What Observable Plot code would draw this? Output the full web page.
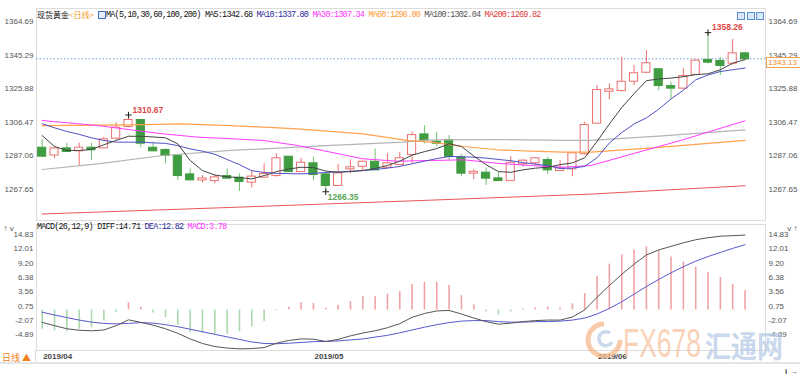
<!DOCTYPE html>
<html><head><meta charset="utf-8">
<script src="https://cdn.jsdelivr.net/npm/d3@7"></script>
<script src="https://cdn.jsdelivr.net/npm/@observablehq/plot@0.6"></script>
<style>
body{margin:0;background:#fff;}
#wrap{position:relative;width:800px;height:376px;overflow:hidden;background:#fff;font-family:"Liberation Sans",Arial,sans-serif;}
#main,#macd{position:absolute;left:0;}
#main{top:0;} #macd{top:222px;}
.ov{position:absolute;white-space:pre;line-height:10px;}
.mono{font-family:"Liberation Mono",monospace;font-size:8.5px;letter-spacing:-0.8px;}
.cjk{font-family:"Noto Sans CJK SC",sans-serif;font-size:8px;}
</style></head><body>
<div id="wrap"><div id="main"></div><div id="macd"></div></div>
<script>
// ---------- data ----------
const opens  = [1291.5,1287.6,1291.1,1290.0,1291.5,1291.7,1297.3,1304.0,1307.5,1291.5,1290.2,1286.9,1276.1,1273.2,1272.8,1275.1,1274.2,1271.9,1274.8,1275.7,1286.3,1278.0,1282.5,1276.1,1270.0,1279.6,1281.1,1283.4,1280.5,1282.1,1287.9,1299.2,1295.0,1296.0,1285.9,1277.1,1277.1,1273.8,1272.8,1282.5,1283.1,1284.4,1278.6,1279.6,1288.3,1306.0,1324.4,1324.8,1330.2,1335.4,1336.8,1327.1,1326.2,1334.1,1342.2,1341.6,1340.6,1346.0];
const highs  = [1296.5,1292.1,1294.4,1294.4,1294.4,1297.9,1306.2,1310.67,1308.1,1295.0,1291.1,1287.5,1279.6,1275.7,1276.1,1279.6,1276.7,1278.0,1282.5,1288.3,1286.7,1285.7,1286.3,1277.1,1282.1,1284.8,1284.0,1291.1,1288.3,1289.2,1300.7,1304.6,1300.7,1298.8,1288.0,1279.0,1280.0,1277.6,1286.7,1285.0,1286.0,1286.3,1284.4,1289.2,1306.5,1327.7,1328.7,1344.1,1339.3,1347.9,1337.4,1329.6,1337.4,1342.5,1358.26,1344.0,1354.3,1347.0];
const lows   = [1286.1,1285.4,1289.2,1281.5,1284.4,1291.3,1296.3,1303.3,1291.7,1289.4,1282.5,1272.8,1272.8,1271.3,1270.9,1273.6,1266.5,1268.6,1274.2,1274.8,1277.5,1277.5,1272.8,1266.35,1269.4,1276.7,1278.6,1278.6,1279.6,1281.5,1282.5,1294.0,1292.3,1284.4,1275.1,1273.4,1270.0,1272.5,1272.5,1280.5,1281.5,1276.3,1278.3,1275.1,1287.5,1305.6,1319.5,1324.0,1327.7,1334.5,1324.8,1319.5,1325.5,1333.5,1340.3,1333.5,1339.5,1342.5];
const closes = [1286.9,1291.1,1289.6,1291.5,1290.6,1296.3,1303.1,1307.5,1294.4,1290.0,1287.3,1275.7,1273.2,1273.8,1274.4,1274.2,1272.3,1274.8,1276.3,1285.4,1278.0,1282.8,1276.3,1270.0,1276.7,1280.2,1283.4,1279.0,1282.5,1285.4,1298.8,1296.3,1294.4,1286.7,1277.1,1277.6,1274.2,1272.8,1282.8,1284.0,1285.4,1279.0,1279.6,1288.3,1304.6,1324.8,1325.2,1329.6,1334.5,1340.3,1327.7,1326.2,1332.9,1341.8,1341.2,1339.3,1346.0,1343.13];
const ma5  = [1298.8,1292.5,1290.2,1290.2,1290.8,1293.5,1296.0,1298.4,1298.4,1298.0,1297.5,1294.0,1284.4,1278.6,1276.0,1275.0,1274.5,1273.8,1275.7,1278.0,1279.5,1280.5,1280.3,1278.3,1277.6,1278.0,1278.6,1279.8,1281.5,1284.0,1287.5,1289.5,1291.3,1294.0,1292.5,1287.0,1282.0,1278.0,1277.6,1279.0,1280.0,1280.5,1282.0,1283.0,1286.0,1295.5,1305.5,1315.0,1323.0,1330.5,1331.5,1332.0,1332.8,1334.0,1334.5,1336.8,1340.6,1342.68];
const ma10 = [1305.6,1303.3,1301.2,1299.5,1297.5,1296.0,1295.0,1295.0,1295.0,1294.6,1294.3,1293.0,1291.1,1289.8,1288.0,1285.0,1282.0,1278.5,1277.5,1277.0,1276.8,1276.7,1277.0,1277.5,1277.8,1278.2,1278.6,1279.2,1280.0,1281.0,1282.5,1284.0,1285.5,1286.7,1286.6,1286.3,1285.8,1285.0,1284.3,1283.2,1282.3,1281.5,1279.8,1280.0,1281.0,1286.0,1294.5,1300.5,1305.5,1309.0,1314.0,1320.0,1325.0,1331.0,1333.8,1335.8,1336.8,1337.8];
const ma30  = [[0,1307.5],[4.5,1304.6],[7.2,1302.1],[9.8,1299.8],[12.6,1297.9],[15.3,1297.0],[17.9,1296.0],[20.7,1293.1],[23.4,1289.2],[26,1285.4],[28.8,1284.0],[31.5,1284.4],[34.2,1284.8],[36.9,1282.8],[39.6,1281.5],[42.3,1280.5],[44.5,1281.5],[48,1288.5],[51.8,1296.0],[54.4,1301.7],[57,1307.34]];
const ma60  = [[0,1304.6],[7.2,1305.0],[11.2,1305.6],[15.3,1304.6],[20.7,1302.7],[26,1299.8],[29.6,1296.0],[31.5,1295.0],[34.2,1292.5],[36.9,1290.6],[39.6,1289.8],[42.3,1289.2],[44.5,1289.2],[50,1292.0],[57,1296.0]];
const ma100 = [[0,1279.2],[4.5,1282.5],[9.8,1287.3],[15.3,1290.2],[23.4,1293.1],[29.3,1295.0],[31.5,1296.3],[36.9,1296.5],[42.3,1296.0],[44.5,1296.0],[50,1298.5],[57,1302.04]];
const ma200 = [[0,1253.5],[15.3,1257.3],[31.5,1261.5],[44.5,1265.0],[57,1269.82]];
const histV = [-3.8,-4.1,-4.3,-3.8,-3.5,-2.2,-0.5,1.4,0.5,-0.6,-1.5,-3.0,-4.5,-4.6,-4.8,-4.8,-4.3,-3.3,-2.3,-0.2,0.5,1.4,1.25,0.3,0.9,1.6,2.6,2.6,3.1,3.6,5.0,5.4,5.4,4.8,2.8,1.0,-0.4,-1.0,-0.4,0.2,0.4,0.6,0.4,1.2,3.2,6.6,9.0,10.8,11.8,12.4,11.6,10.4,9.4,8.4,7.4,6.4,5.0,3.78];
const diffV = [-2.45,-3.1,-3.7,-4.0,-4.1,-3.95,-3.1,-1.95,-2.45,-3.0,-3.7,-4.6,-5.7,-6.6,-7.2,-7.5,-7.65,-7.6,-7.4,-6.55,-6.0,-5.7,-5.75,-6.2,-5.8,-5.1,-4.55,-4.1,-3.5,-2.7,-1.45,-0.7,-0.2,-0.1,-0.8,-1.6,-2.3,-2.8,-2.6,-2.3,-2.1,-2.0,-2.0,-1.4,0.0,2.5,4.8,7.0,9.0,10.8,11.8,12.5,13.2,13.8,14.2,14.5,14.6,14.71];
const deaV  = [-0.45,-1.0,-1.5,-2.0,-2.4,-2.65,-2.75,-2.65,-2.5,-2.6,-2.9,-3.3,-3.8,-4.3,-4.8,-5.3,-5.8,-6.3,-6.6,-6.65,-6.55,-6.4,-6.25,-6.2,-6.1,-5.9,-5.7,-5.35,-5.0,-4.5,-3.95,-3.4,-2.9,-2.5,-2.2,-2.1,-2.1,-2.3,-2.4,-2.4,-2.3,-2.3,-2.2,-2.0,-1.6,-0.8,0.3,1.6,3.1,4.6,6.0,7.3,8.5,9.6,10.5,11.3,12.1,12.82];
const yTicksMain = [1364.69,1345.29,1325.88,1306.47,1287.06,1267.65];
const yTicksMacd = [14.83,12.01,9.20,6.38,3.56,0.75,-2.07,-4.89];
const dateTicks = [0,22,45];
const dateLabels = ["2019/04","2019/05","2019/06"];
const highMarks = [{i:7,v:1310.67},{i:54,v:1358.26}];
const lowMarks = [{i:23,v:1266.35}];
const lastPrice = 1343.13;
const legendMA = {ma5:"1342.68",ma10:"1337.80",ma30:"1307.34",ma60:"1296.00",ma100:"1302.04",ma200:"1269.82"};
const legendMACD = {diff:"14.71",dea:"12.82",macd:"3.78"};

// ---------- build ----------
const RED="#ec6f6f", GREEN="#409c40", GWICK="#72bf72";
const C={ma5:"#444",ma10:"#5151c8",ma30:"#ff3cff",ma60:"#ffa24a",ma100:"#b4b4b4",ma200:"#e85454"};
const candles = opens.map((o,i)=>({i,o,h:highs[i],l:lows[i],c:closes[i],up:closes[i]>=o}));
const seq = a => a.map((v,i)=>({i,v}));
const pairs = a => a.map(([i,v])=>({i,v}));
const xdom = [-0.46, 58.66];
const fmt = d => d.toFixed(2);
const axStyle = {tickSize:0, tickPadding:3, tickFormat:fmt, fontSize:8, color:"#555"};

const main = Plot.plot({
  width:800, height:222, marginLeft:36, marginRight:35, marginTop:8, marginBottom:2,
  style:{fontFamily:"Liberation Sans, Arial, sans-serif", fontSize:"8px", background:"transparent"},
  x:{domain:xdom, axis:null},
  y:{domain:[1249.75,1372.2], axis:null},
  marks:[
    Plot.frame({stroke:"#dcdcdc"}),
    Plot.ruleY([lastPrice],{stroke:"#6f9fd8", strokeDasharray:"1.5,2"}),
    Plot.ruleX(candles,{x:"i", y1:"l", y2:"h", stroke:d=>d.up?RED:GWICK, strokeWidth:1}),
    Plot.rect(candles,{x1:d=>d.i-0.33, x2:d=>d.i+0.33, y1:"o", y2:"c", insetTop:-0.5, insetBottom:-0.5,
      fill:d=>d.up?"#fff":GREEN, stroke:d=>d.up?RED:GREEN, strokeWidth:1}),
    Plot.line(pairs(ma200),{x:"i",y:"v",stroke:C.ma200,strokeWidth:1}),
    Plot.line(pairs(ma100),{x:"i",y:"v",stroke:C.ma100,strokeWidth:1.2}),
    Plot.line(pairs(ma60),{x:"i",y:"v",stroke:C.ma60,strokeWidth:1.2}),
    Plot.line(pairs(ma30),{x:"i",y:"v",stroke:C.ma30,strokeWidth:1}),
    Plot.line(seq(ma10),{x:"i",y:"v",stroke:C.ma10,strokeWidth:1}),
    Plot.line(seq(ma5),{x:"i",y:"v",stroke:C.ma5,strokeWidth:1}),
    Plot.dot(highMarks.concat(lowMarks),{x:"i",y:"v",symbol:"plus",r:2.2,stroke:"#222",strokeWidth:1}),
    Plot.text(highMarks,{x:"i",y:"v",text:d=>fmt(d.v),dx:4,dy:-5,textAnchor:"start",fill:"#e04848",fontSize:8.5,fontWeight:"bold"}),
    Plot.text(lowMarks,{x:"i",y:"v",text:d=>fmt(d.v),dx:2,dy:6,textAnchor:"start",fill:"#5aa85a",fontSize:8.5,fontWeight:"bold"}),
    Plot.axisY({anchor:"left", ticks:yTicksMain, ...axStyle}),
    Plot.axisY({anchor:"right", ticks:yTicksMain, ...axStyle})
  ]
});
document.getElementById("main").appendChild(main);

const macd = Plot.plot({
  width:800, height:154, marginLeft:36, marginRight:35, marginTop:2, marginBottom:26,
  style:{fontFamily:"Liberation Sans, Arial, sans-serif", fontSize:"8px", background:"transparent"},
  x:{domain:xdom, axis:null},
  y:{domain:[-7.98,16.8], axis:null},
  marks:[
    Plot.frame({stroke:"#dcdcdc"}),
    Plot.ruleX(seq(histV),{x:"i", y1:0, y2:"v", stroke:d=>d.v>=0?"#f0a2a2":"#acd8ac", strokeWidth:1.6}),
    Plot.line(seq(deaV),{x:"i",y:"v",stroke:"#5858d0",strokeWidth:1}),
    Plot.line(seq(diffV),{x:"i",y:"v",stroke:"#555",strokeWidth:1}),
    Plot.axisY({anchor:"left", ticks:yTicksMacd, ...axStyle}),
    Plot.axisY({anchor:"right", ticks:yTicksMacd, ...axStyle}),
    Plot.axisX({anchor:"bottom", ticks:dateTicks, tickFormat:(d,k)=>dateLabels[k], tickSize:0, tickPadding:3,
      textAnchor:"start", dx:1, fontSize:8, fontWeight:"bold", color:"#444"})
  ]
});
document.getElementById("macd").appendChild(macd);

// ---------- overlays (legend / labels) ----------
const wrap = document.getElementById("wrap");
function ov(html, left, top, cls, extra){
  const d=document.createElement("div"); d.className="ov "+(cls||""); d.style.left=left+"px"; d.style.top=top+"px";
  if(extra) Object.assign(d.style, extra); d.innerHTML=html; wrap.appendChild(d); return d;
}
ov('<span style="color:#111">现货黄金</span><span style="color:#f39a1e">&lt;日线&gt;</span>',37,10,"cjk");
ov('',98,11,"",{width:"6px",height:"6px",border:"1px solid #3a6fc8",background:"#e8eefc"});
ov(`<span style="color:#111">MA(5,10,30,60,100,200) MA5:${legendMA.ma5}</span> <span style="color:#2a2aa0">MA10:${legendMA.ma10}</span> <span style="color:#ff33ff">MA30:${legendMA.ma30}</span> <span style="color:#ff9933">MA60:${legendMA.ma60}</span> <span style="color:#555">MA100:${legendMA.ma100}</span> <span style="color:#e03a3a">MA200:${legendMA.ma200}</span>`,106,10,"mono");
ov(`<span style="color:#111">MACD(26,12,9) DIFF:${legendMACD.diff}</span> <span style="color:#2a2aa0">DEA:${legendMACD.dea}</span> <span style="color:#ff33ff">MACD:${legendMACD.macd}</span>`,37,222,"mono");
[737,746.5,756].forEach(x=>ov('',x,12,"",{width:"6px",height:"6px",border:"1px solid #5b8fd4",background:"#dbe8fa"}));
const py = main.scale("y").apply(lastPrice);
ov(String(lastPrice.toFixed(2)),766,py-1,"",{width:"32px",height:"9px",border:"1px solid #f5a04a",color:"#f08a1c",fontSize:"8px",lineHeight:"9px",paddingLeft:"1px"});
ov('<span style="color:#f0801a">日线 ▲</span>',2,352,"cjk",{fontSize:"9px",lineHeight:"11px"});
ov('',35,350,"",{width:"0px",height:"12px",borderLeft:"1px solid #dcdcdc"});
ov('',0,362,"",{width:"800px",height:"0px",borderTop:"2px solid #e4e4e4"});
// watermark
const ns="http://www.w3.org/2000/svg";
const wm=document.createElementNS(ns,"svg");
wm.setAttribute("width","800");wm.setAttribute("height","376");
wm.style.position="absolute";wm.style.left="0";wm.style.top="0";wm.style.pointerEvents="none";
wm.innerHTML=`<g opacity="0.75">
<path d="M604 324 a16 16 0 1 0 16 16" fill="none" stroke="#f6b98a" stroke-width="5"/>
<path d="M610 333 a7 7 0 1 0 2 9" fill="none" stroke="#b9cce6" stroke-width="3.5"/>
<text x="623" y="357" font-family="Liberation Sans" font-size="40" fill="#f8c3a0" textLength="78" lengthAdjust="spacingAndGlyphs">FX678</text>
<text x="705" y="357" font-family="Noto Sans CJK SC" font-weight="bold" font-size="30" fill="#b8cce8" textLength="78" lengthAdjust="spacingAndGlyphs">汇通网</text></g>`;
wrap.appendChild(wm);
</script></body></html>
